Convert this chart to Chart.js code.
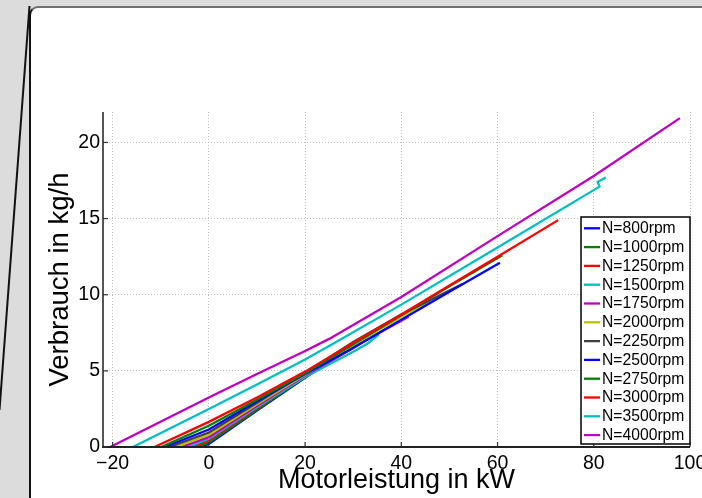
<!DOCTYPE html>
<html><head><meta charset="utf-8">
<script src="https://cdn.jsdelivr.net/npm/chart.js@4.4.1/dist/chart.umd.min.js"></script>
<style>
html,body{margin:0;padding:0;width:702px;height:498px;overflow:hidden;background:#dcdcdc;}
#panel{position:absolute;left:29px;top:6px;width:720px;height:540px;background:#fff;border-left:2px solid #111;border-top:2px solid #707070;border-top-left-radius:9px;}
#deco{position:absolute;left:0;top:0;}
#c{position:absolute;left:0;top:0;}
</style></head><body>
<div id="panel"></div>
<svg id="deco" width="702" height="498"><line x1="29.5" y1="6" x2="-0.5" y2="410" stroke="#111" stroke-width="2"/></svg>
<canvas id="c" width="702" height="498"></canvas>
<script>
// ---- data (x = Motorleistung kW, y = Verbrauch kg/h) ----
const labels = ['N=800rpm','N=1000rpm','N=1250rpm','N=1500rpm','N=1750rpm','N=2000rpm','N=2250rpm','N=2500rpm','N=2750rpm','N=3000rpm','N=3500rpm','N=4000rpm'];
const n800  = [[-1.7,0],[0,0.2],[10,2.4],[20,4.55],[22,4.95]];
const n1000 = [[-2.6,0],[0,0.3],[10,2.45],[20,4.6],[26,5.8]];
const n1250 = [[-3.4,0],[0,0.45],[10,2.55],[20,4.65],[30,6.5]];
const n1500 = [[-4.4,0],[0,0.55],[10,2.6],[20,4.6],[30,6.25],[33,6.8],[35.4,7.4]];
const n1750 = [[-5.7,0],[0,0.65],[10,2.7],[20,4.7],[30,6.55],[41.5,8.55]];
const n2000 = [[-7.1,0],[0,0.8],[10,2.8],[20,4.75],[30,6.7],[40,8.55],[46,9.6]];
const n2250 = [[-8.2,0],[0,0.95],[10,2.9],[20,4.85],[30,6.9],[40,8.7],[52.7,10.7]];
const n2500 = [[-9.2,0],[0,1.15],[10,3.0],[20,4.8],[30,6.5],[40,8.35],[50,10.2],[60.5,12.1]];
const n2750 = [[-9.9,0],[0,1.4],[10,3.1],[20,4.85],[30,6.75],[40,8.65],[50,10.55],[61,12.6]];
const n3000 = [[-11.3,0],[0,1.65],[10,3.25],[20,4.95],[30,6.85],[40,8.7],[50,10.6],[60,12.5],[72.6,14.9]];
const n3500 = [[-15.8,0],[0,2.5],[10,4.1],[20,5.75],[27,7.0],[40,9.35],[60,13.1],[81.2,17.1],[80.8,17.4],[82.5,17.7]];
const n4000 = [[-20.5,0],[0,3.25],[10,4.8],[20,6.3],[25,7.1],[40,9.85],[60,13.85],[80,17.8],[97.9,21.6]];
const series = [n800,n1000,n1250,n1500,n1750,n2000,n2250,n2500,n2750,n3000,n3500,n4000];
const xTicks = [-20,0,20,40,60,80,100];
const yTicks = [0,5,10,15,20];
const xRange = [-22,100];
const yRange = [0,22];
const xTitle = 'Motorleistung in kW';
const yTitle = 'Verbrauch in kg/h';

// ---- styles ----
const colors = ['#0000ff','#008000','#ff0000','#00bfbf','#bf00bf','#bfbf00','#404040','#0000ff','#008000','#ff0000','#00bfbf','#bf00bf'];
const FAM = "'Liberation Sans', Arial, Helvetica, sans-serif";
const fmt = v => v < 0 ? '\u2212' + Math.abs(v) : String(v);

const axesPlugin = {
  id:'axesPlugin',
  afterDatasetsDraw(chart){
    const {ctx, chartArea:ca, scales:{x,y}} = chart;
    ctx.save();
    ctx.lineCap='butt';
    ctx.strokeStyle='#555'; ctx.lineWidth=2;
    ctx.beginPath(); ctx.moveTo(ca.left, ca.top); ctx.lineTo(ca.left, ca.bottom); ctx.stroke();
    ctx.strokeStyle='#222'; ctx.lineWidth=2;
    ctx.beginPath(); ctx.moveTo(ca.left-1, ca.bottom); ctx.lineTo(ca.right, ca.bottom); ctx.stroke();
    ctx.lineWidth=1.2; ctx.strokeStyle='#333';
    xTicks.forEach(v=>{const px=x.getPixelForValue(v); ctx.beginPath(); ctx.moveTo(px,ca.bottom); ctx.lineTo(px,ca.bottom-5); ctx.stroke();});
    yTicks.forEach(v=>{const py=y.getPixelForValue(v); ctx.beginPath(); ctx.moveTo(ca.left,py); ctx.lineTo(ca.left+5,py); ctx.stroke();});
    ctx.restore();
  }
};

const legendPlugin = {
  id:'boxLegend',
  afterDraw(chart){
    const {ctx, chartArea:ca} = chart;
    const rowH = 18.8, w = 109, h = 227;
    const right = ca.right, bottom = ca.bottom - 3;
    const left = right - w, top = bottom - h;
    ctx.save();
    ctx.fillStyle='#fff'; ctx.fillRect(left, top, w, h);
    ctx.strokeStyle='#000'; ctx.lineWidth=1.5; ctx.strokeRect(left, top, w, h);
    ctx.font = '15.7px ' + FAM; ctx.textAlign='left'; ctx.textBaseline='middle';
    labels.forEach((lab,i)=>{
      const cy = top + 11.3 + i*rowH;
      ctx.strokeStyle = colors[i]; ctx.lineWidth=2.3;
      ctx.beginPath(); ctx.moveTo(left+3, cy); ctx.lineTo(left+19, cy); ctx.stroke();
      ctx.fillStyle='#000'; ctx.fillText(lab, left+21, cy+0.5);
    });
    ctx.restore();
  }
};

new Chart(document.getElementById('c'), {
  type:'line',
  data:{ datasets: series.map((pts,i)=>({
    label: labels[i],
    data: pts.map(p=>({x:p[0], y:p[1]})),
    borderColor: colors[i], backgroundColor: colors[i],
    borderWidth: 2.3, pointRadius: 0, tension: 0, fill: false,
    order: series.length - i
  }))},
  options:{
    responsive:false, animation:false,
    layout:{padding:{left:0, top:112, right:12, bottom:0}},
    plugins:{legend:{display:false}, tooltip:{enabled:false}},
    scales:{
      x:{
        type:'linear', min:xRange[0], max:xRange[1],
        afterBuildTicks: s => { s.ticks = xTicks.map(v=>({value:v})); },
        afterFit: s => { s.height = 51; s.paddingLeft = 0; s.paddingRight = 0; },
        grid:{color:'#bdbdbd', lineWidth:1, drawTicks:false},
        border:{display:false, dash:[1,2]},
        ticks:{autoSkip:false, maxRotation:0, padding:5, color:'#000', font:{size:19.5, family:FAM}, callback: v => fmt(v)},
        title:{display:true, text:xTitle, color:'#000', font:{size:27, family:FAM}, padding:{top:0, bottom:1}}
      },
      y:{
        type:'linear', min:yRange[0], max:yRange[1],
        afterBuildTicks: s => { s.ticks = yTicks.map(v=>({value:v})); },
        afterFit: s => { s.width = 103; s.paddingTop = 0; s.paddingBottom = 0; },
        grid:{color:'#bdbdbd', lineWidth:1, drawTicks:false},
        border:{display:false, dash:[1,2]},
        ticks:{autoSkip:false, padding:3, color:'#000', font:{size:19.5, family:FAM}, callback: v => fmt(v)},
        title:{display:true, text:yTitle, color:'#000', font:{size:27.5, family:FAM}, padding:{top:44, bottom:0}}
      }
    }
  },
  plugins:[axesPlugin, legendPlugin]
});
</script>
</body></html>
